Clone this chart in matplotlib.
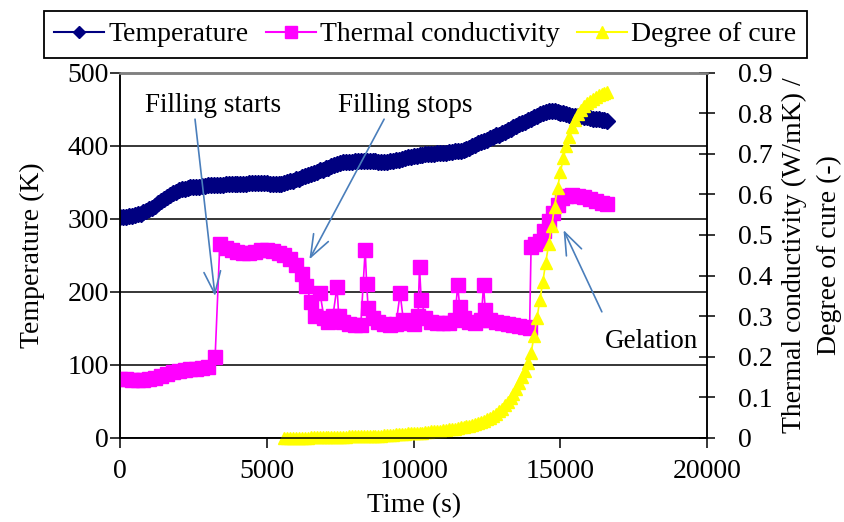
import matplotlib
matplotlib.use("Agg")
import matplotlib.pyplot as plt
from matplotlib.lines import Line2D
from matplotlib.ticker import FuncFormatter, MultipleLocator

plt.rcParams["font.family"] = ["Liberation Serif", "DejaVu Serif"]
plt.rcParams["font.size"] = 20

# temperature log, one reading every 100 s
temp_time = list(range(0, 16601, 100))
temp_K = [303, 303, 303, 304, 304, 305, 306, 307, 309, 311,
          313, 315, 318, 321, 324, 327, 330, 332, 335, 337,
          339, 340, 341, 342, 343, 343, 344, 344, 345, 345,
          346, 346, 346, 346, 346, 346, 347, 347, 347, 347,
          348, 348, 348, 348, 349, 349, 349, 349, 349, 349,
          349, 348, 348, 348, 348, 348, 349, 350, 351, 352,
          354, 355, 357, 358, 360, 361, 363, 364, 366, 367,
          369, 370, 372, 373, 375, 376, 377, 377, 378, 378,
          379, 379, 379, 379, 379, 379, 379, 379, 378, 378,
          378, 378, 379, 379, 380, 381, 382, 383, 384, 385,
          386, 386, 387, 387, 388, 388, 389, 389, 390, 390,
          390, 390, 391, 391, 392, 392, 393, 394, 395, 397,
          399, 401, 403, 405, 407, 408, 410, 412, 414, 415,
          417, 419, 421, 423, 425, 427, 429, 431, 433, 435,
          437, 439, 441, 443, 445, 446, 447, 447, 447, 446,
          445, 444, 443, 442, 441, 441, 440, 440, 439, 439,
          438, 437, 436, 436, 435, 435, 434]

# thermal conductivity (W/mK)
k_time = [0, 200, 400, 600, 800, 1000, 1200, 1400, 1600, 1800,
          2000, 2200, 2400, 2600, 2800, 3000, 3240, 3400, 3600, 3800,
          4000, 4200, 4400, 4600, 4800, 5000, 5200, 5400, 5600, 5800,
          6000, 6200, 6350, 6500, 6650, 6810, 6950, 7100, 7250, 7390,
          7450, 7600, 7800, 8000, 8200, 8350, 8400, 8450, 8600, 8800,
          9000, 9200, 9400, 9540, 9650, 9800, 10000, 10150, 10200, 10260,
          10400, 10600, 10800, 11000, 11200, 11400, 11500, 11570, 11700, 11900,
          12100, 12300, 12380, 12440, 12600, 12800, 13000, 13200, 13400, 13600,
          13800, 13950, 14000, 14150, 14300, 14450, 14600, 14750, 14900, 15050,
          15200, 15400, 15600, 15800, 16000, 16200, 16400, 16600]
k_val = [0.145, 0.145, 0.143, 0.142, 0.142, 0.144, 0.148, 0.153, 0.158, 0.162,
         0.165, 0.168, 0.170, 0.171, 0.172, 0.174, 0.200, 0.478, 0.468, 0.462,
         0.458, 0.455, 0.456, 0.459, 0.462, 0.462, 0.460, 0.456, 0.450, 0.440,
         0.425, 0.405, 0.375, 0.335, 0.300, 0.357, 0.295, 0.285, 0.300, 0.372,
         0.300, 0.285, 0.280, 0.277, 0.278, 0.463, 0.380, 0.320, 0.295, 0.285,
         0.280, 0.277, 0.280, 0.356, 0.290, 0.282, 0.280, 0.300, 0.420, 0.340,
         0.295, 0.285, 0.283, 0.282, 0.283, 0.290, 0.376, 0.323, 0.295, 0.285,
         0.283, 0.290, 0.376, 0.315, 0.290, 0.285, 0.283, 0.280, 0.278, 0.276,
         0.274, 0.272, 0.471, 0.478, 0.485, 0.510, 0.535, 0.555, 0.575, 0.590,
         0.596, 0.598, 0.597, 0.593, 0.588, 0.583, 0.579, 0.576]

# degree of cure (-), every 100 s once the resin is in
cure_time = list(range(5600, 16601, 100))
cure_val = [0.000, 0.000, 0.000, 0.000,
            0.001, 0.001, 0.001, 0.001, 0.001, 0.002, 0.002, 0.002, 0.002, 0.002,
            0.002, 0.002, 0.003, 0.003, 0.003, 0.003, 0.003, 0.003, 0.004, 0.004,
            0.004, 0.004, 0.005, 0.005, 0.005, 0.005, 0.006, 0.006, 0.006, 0.006,
            0.007, 0.007, 0.008, 0.008, 0.009, 0.009, 0.010, 0.010, 0.011, 0.011,
            0.012, 0.012, 0.013, 0.013, 0.014, 0.015, 0.016, 0.016, 0.017, 0.018,
            0.019, 0.020, 0.021, 0.022, 0.023, 0.024, 0.026, 0.027, 0.029, 0.030,
            0.032, 0.034, 0.036, 0.039, 0.042, 0.046, 0.050, 0.055, 0.060, 0.066,
            0.072, 0.080, 0.088, 0.098, 0.108, 0.120, 0.135, 0.150, 0.165, 0.185,
            0.210, 0.250, 0.295, 0.340, 0.385, 0.432, 0.478, 0.522, 0.570, 0.615,
            0.655, 0.690, 0.718, 0.742, 0.765, 0.782, 0.797, 0.808, 0.818, 0.824,
            0.830, 0.835, 0.840, 0.844, 0.847, 0.850, 0.853]

NAVY, MAG, YEL, ARROW = "#000080", "#FF00FF", "#FFFF00", "#4A7EBB"

fig = plt.figure(figsize=(8.45, 5.22), dpi=100)
ax = fig.add_axes([0.142, 0.161, 0.695, 0.700])
ax2 = ax.twinx()

ax.plot(temp_time, temp_K, color=NAVY, lw=1.2, marker="D", ms=8, mec=NAVY, mfc=NAVY)
ax2.plot(k_time, k_val, color=MAG, lw=1.2, marker="s", ms=10.5, mec=MAG, mfc=MAG)
ax2.plot(cure_time, cure_val, color=YEL, lw=1.2, marker="^", ms=9, mec=YEL, mfc=YEL,
         clip_on=False)

ax.set_xlim(0, 20000)
ax.set_ylim(0, 500)
ax2.set_ylim(0, 0.9)
ax.xaxis.set_major_locator(MultipleLocator(5000))
ax.yaxis.set_major_locator(MultipleLocator(100))
ax2.yaxis.set_major_locator(MultipleLocator(0.1))
ax2.yaxis.set_major_formatter(FuncFormatter(lambda v, p: f"{v:g}"))

ax.grid(axis="y", color="black", lw=1.1)
ax.set_axisbelow(True)
for a in (ax, ax2):
    for s in ("left", "right", "bottom"):
        a.spines[s].set_linewidth(1.1)
    a.spines["top"].set_color("#808080")
    a.spines["top"].set_linewidth(1.8)
ax.tick_params(axis="both", length=7, width=1.1, direction="out")
ax.tick_params(axis="y", pad=1)
ax.tick_params(axis="x", pad=8)
ax2.tick_params(axis="y", length=12, width=1.1, direction="inout", pad=16)

ax.set_xlabel("Time (s)", labelpad=7)
ax.set_ylabel("Temperature (K)", labelpad=16)
ax2.set_ylabel("Thermal conductivity (W/mK) /\nDegree of cure (-)", labelpad=7,
               linespacing=1.5)

# event markers
tr = ax.transData
notes = [("Filling starts", (852, 446.6), (2555, 436.2), (3237, 194.1)),
         ("Filling stops", (7440, 446.6), (8995, 436.2), (6450, 244.4)),
         ("Gelation", (16525, 122.5), (16410, 172.6), (15105, 284.5))]
for label, pos, tail, tip in notes:
    ax2.text(pos[0], pos[1], label, transform=tr, ha="left", va="baseline",
             fontsize=19.5, zorder=6)
    ax2.annotate("", xy=tip, xycoords=tr, xytext=tail, textcoords=tr,
                 arrowprops=dict(arrowstyle="->,head_length=0.8,head_width=0.3",
                                 color=ARROW, lw=1.2, shrinkA=0, shrinkB=0),
                 zorder=6)

handles = [Line2D([], [], color=NAVY, lw=1.5, marker="D", ms=6.5),
           Line2D([], [], color=MAG, lw=1.5, marker="s", ms=8.5),
           Line2D([], [], color=YEL, lw=1.5, marker="^", ms=9)]
leg = fig.legend(handles, ["Temperature", "Thermal conductivity", "Degree of cure"],
                 loc="upper center", bbox_to_anchor=(0.503, 0.978), ncol=3,
                 frameon=True, fancybox=False, edgecolor="black", framealpha=1,
                 handlelength=1.8, handletextpad=0.15, columnspacing=0.62,
                 borderpad=0.38, borderaxespad=0, fontsize=20)
leg.get_frame().set_linewidth(1.3)

fig.savefig("out.png", dpi=100)
